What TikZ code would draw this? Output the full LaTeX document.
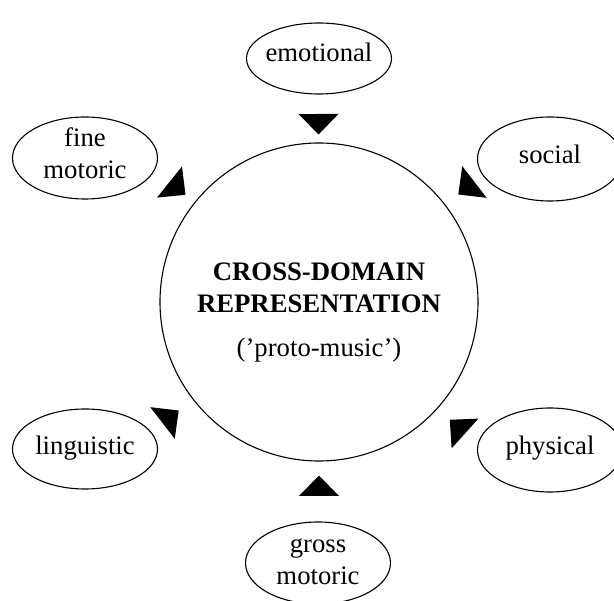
\documentclass[tikz,border=0pt]{standalone}
\usepackage{fontspec}
\setmainfont{Liberation Serif}
\usetikzlibrary{shapes.geometric,calc}
\newcommand\pointerwedge[1]{\fill ($(#1)!20.5pt!(hub.center)$) -- ($(#1)!20pt!90:(hub.center)$) -- ($(#1)!20pt!-90:(hub.center)$) -- cycle;}
\begin{document}
\begin{tikzpicture}[x=1pt,y=-1pt,
  oval/.style={draw, ellipse, line width=1.1pt, minimum width=145pt, inner sep=0pt},
  lbl/.style={font=\fontsize{26.7}{32}\selectfont, inner sep=0pt, anchor=base}]
\clip (0,0) rectangle (614,601);
\fill[white] (0,0) rectangle (614,601);
% central circle
\node[draw, circle, line width=1.1pt, minimum size=318pt, inner sep=0pt] (hub) at (319,302) {};
\node[lbl] (hubA) at (319,280.7) {\bfseries CROSS-DOMAIN};
\node[lbl] (hubB) at (319,312.7) {\bfseries REPRESENTATION};
\node[lbl] (hubC) at (319,356.7) {(’proto-music’)};
% domains
\node[oval, minimum height=71pt] (emo) at (319,58.5) {};
\node[lbl] (emoT) at (319,62) {emotional};
\node[oval, minimum height=82pt] (fine) at (85,158) {};
\node[lbl] (fineA) at (85,147) {fine};
\node[lbl] (fineB) at (85,179) {motoric};
\node[oval, minimum height=84pt] (soc) at (550,159) {};
\node[lbl] (socT) at (550,164) {social};
\node[oval, minimum height=80pt] (ling) at (85,449) {};
\node[lbl] (lingT) at (85,455) {linguistic};
\node[oval, minimum height=84pt] (phys) at (550,450) {};
\node[lbl] (physT) at (550,455) {physical};
\node[oval, minimum height=82pt] (gross) at (318,563) {};
\node[lbl] (grossA) at (318,553) {gross};
\node[lbl] (grossB) at (318,585) {motoric};
% pointers
\coordinate (mEmo) at (318.5,114);
\coordinate (mGross) at (319,496);
\coordinate (mFine) at (169.5,182);
\coordinate (mSoc) at (474.5,182);
\coordinate (mLing) at (162.5,423);
\coordinate (mPhys) at (465,433.5);
\pointerwedge{mEmo}
\pointerwedge{mGross}
\pointerwedge{mFine}
\pointerwedge{mSoc}
\pointerwedge{mLing}
\pointerwedge{mPhys}
\end{tikzpicture}
\end{document}
